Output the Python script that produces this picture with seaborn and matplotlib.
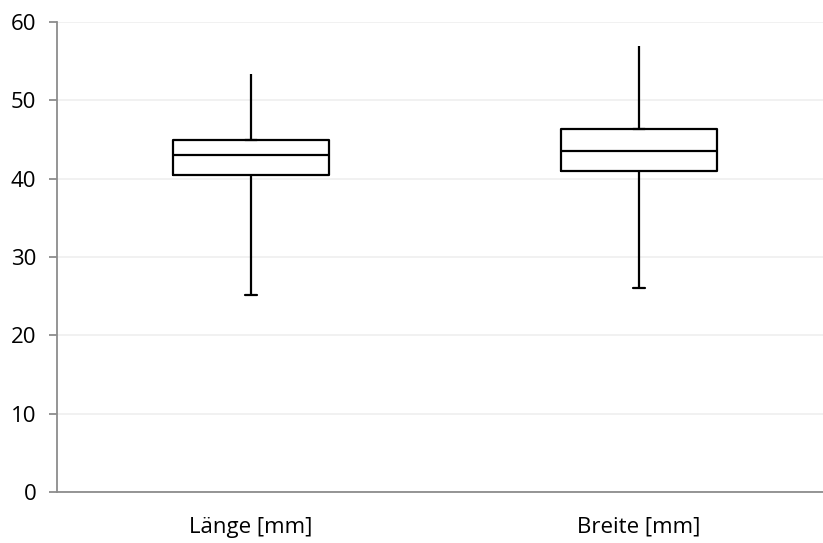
import numpy as np
import pandas as pd
import seaborn as sns
import matplotlib.pyplot as plt

# five-number summaries: min, q1, median, q3, max
kategorien = ['Länge [mm]', 'Breite [mm]']
laenge = [25.1, 40.5, 43.0, 45.0, 53.4]
breite = [26.0, 41.0, 43.5, 46.3, 56.9]
y_ticks = [0, 10, 20, 30, 40, 50, 60]

df = pd.DataFrame({
    'Merkmal': [kategorien[0]] * len(laenge) + [kategorien[1]] * len(breite),
    'Wert': laenge + breite,
})

sns.set_style('white')
plt.rcParams['font.family'] = ['Open Sans', 'DejaVu Sans']

fig = plt.figure(figsize=(8.23, 5.43), dpi=100)
ax = fig.add_axes([57 / 823, 51 / 543, 776 / 823, 470 / 543])

sns.boxplot(data=df, x='Merkmal', y='Wert', ax=ax, whis=np.inf, width=0.4,
            fill=False, color='black', linewidth=1.6, capwidths=0.032)

# excel-style: upper cap sits on the box top instead of the whisker end
maxima = [max(laenge), max(breite)]
q3s = [laenge[3], breite[3]]
for line in ax.lines:
    yd = np.asarray(line.get_ydata(), dtype=float)
    xd = np.asarray(line.get_xdata(), dtype=float)
    if len(yd) == 2 and yd[0] == yd[1] and abs(xd[1] - xd[0]) < 0.05:
        for m, q in zip(maxima, q3s):
            if np.isclose(yd[0], m):
                line.set_ydata([q, q])

ax.set_xlim(-0.5, 1.5)
ax.set_ylim(0, 60)
ax.set_yticks(y_ticks)
ax.yaxis.grid(True, color='#efefef', linewidth=1.2)
ax.set_axisbelow(True)
ax.set_xlabel('')
ax.set_ylabel('')

for s in ['top', 'right']:
    ax.spines[s].set_visible(False)
for s in ['left', 'bottom']:
    ax.spines[s].set_color('#8c8c8c')
    ax.spines[s].set_linewidth(1.3)

ax.set_xticks([-0.5, 0.5, 1.5], minor=True)
ax.tick_params(axis='x', which='major', length=0, labelsize=16, pad=18,
               colors='#000000')
ax.tick_params(axis='x', which='minor', length=6, width=1.3, color='#8c8c8c',
               direction='out')
ax.tick_params(axis='y', length=6, width=1.3, color='#8c8c8c', left=True,
               direction='out', labelsize=16, pad=9, labelcolor='#000000')

plt.savefig('out.png', dpi=100)
